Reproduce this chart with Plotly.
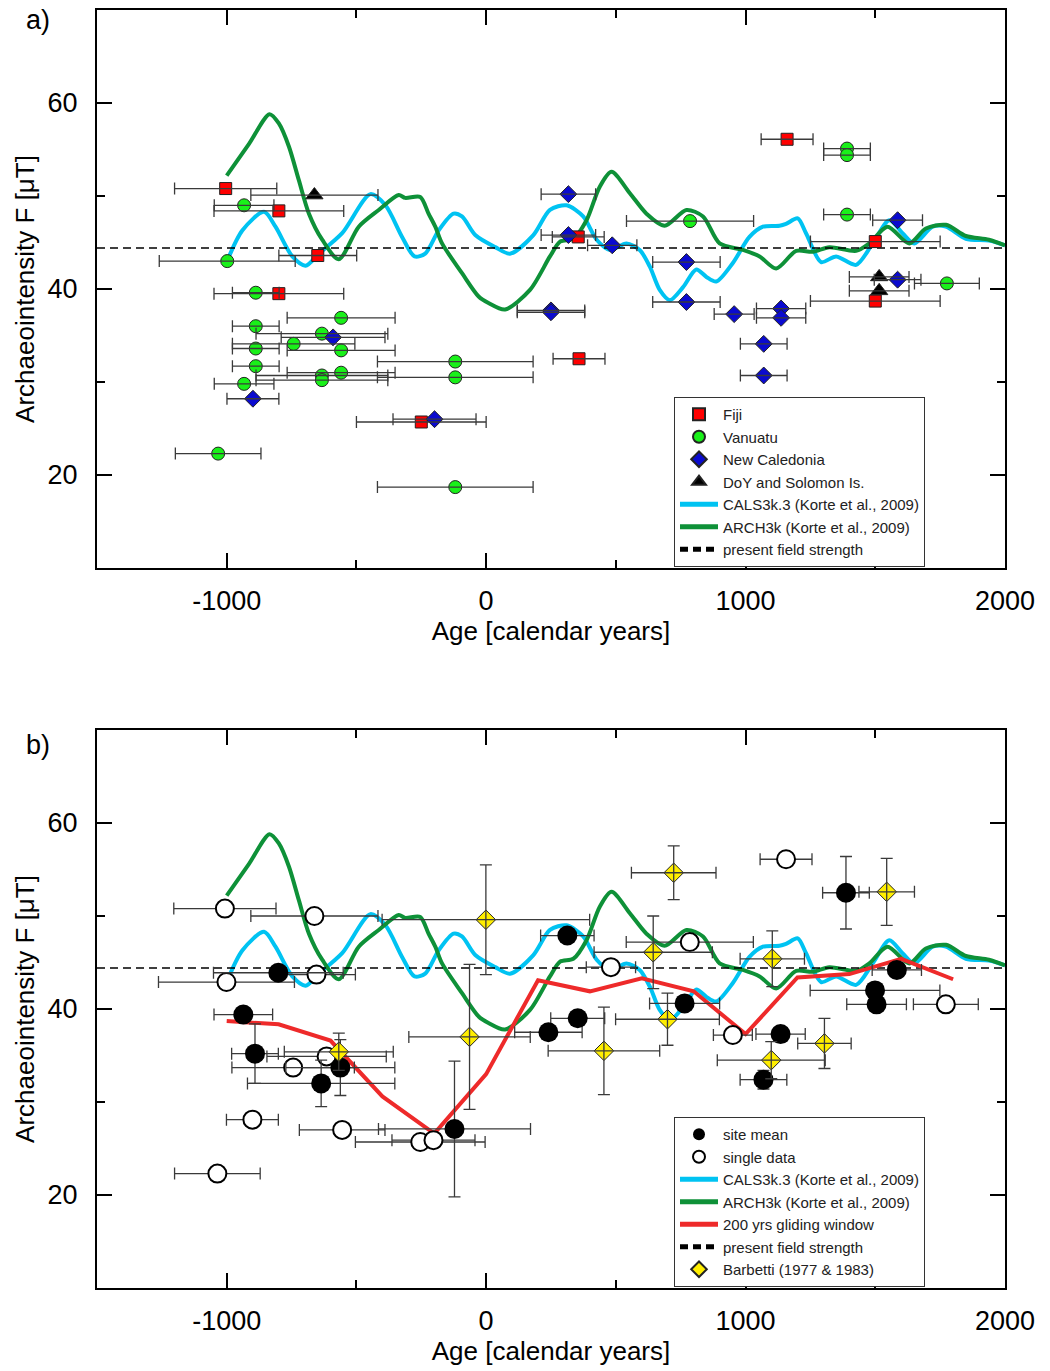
import plotly.graph_objects as go

# ---------------- geomagnetic field models (age [yr], F [µT]) ----------------
cals_age = [-1000, -940, -856, -812, -747, -696, -645, -555, -446, -388, -324, -276,
            -235, -183, -126, -93, -42, 35, 92, 182, 246, 310, 374, 426, 477, 541,
            592, 631, 669, 708, 759, 810, 849, 887, 951, 1015, 1067, 1131, 1156,
            1201, 1233, 1291, 1349, 1426, 1490, 1554, 1605, 1650, 1721, 1772, 1849,
            1938, 2000]
cals_f = [42.9, 46.3, 48.3, 46.7, 43.5, 42.5, 43.8, 46.0, 50.2, 49.0, 45.6, 43.5,
          43.8, 46.3, 48.1, 47.8, 45.8, 44.5, 43.8, 45.8, 48.5, 49.0, 47.8, 45.3,
          44.2, 44.9, 44.2, 42.4, 39.9, 38.8, 40.2, 42.1, 41.3, 40.8, 42.8, 45.6,
          46.7, 46.8, 47.0, 47.6, 46.0, 42.9, 43.5, 42.6, 44.9, 47.4, 46.0, 44.9,
          46.7, 46.7, 45.4, 45.2, 44.7]

arch_age = [-1000, -914, -835, -799, -760, -722, -683, -632, -568, -491, -414, -337,
            -312, -254, -222, -196, -170, -93, -29, 9, 73, 169, 246, 285, 336, 387,
            438, 483, 554, 618, 688, 772, 836, 900, 990, 1054, 1118, 1195, 1259,
            1323, 1426, 1477, 1547, 1631, 1695, 1772, 1849, 1938, 2000]
arch_f = [52.2, 55.6, 58.8, 57.8, 55.3, 51.7, 48.1, 45.3, 43.2, 46.7, 48.5, 50.1,
          49.8, 49.9, 48.1, 46.7, 44.9, 41.7, 39.2, 38.5, 37.8, 39.9, 43.5, 45.1,
          45.4, 47.4, 51.0, 52.6, 50.3, 48.1, 46.8, 48.5, 47.8, 44.9, 44.2, 43.5,
          42.2, 44.1, 44.0, 44.5, 44.1, 44.9, 46.7, 44.9, 46.5, 46.9, 45.7, 45.3,
          44.7]

present_field = 44.4
axis_age = [-1500, 2000]

# 200 yrs gliding window
glide_age = [-1000, -800, -600, -400, -200, 0, 200, 400, 600, 800, 1000, 1200,
             1400, 1600, 1800]
glide_f = [38.7, 38.35, 36.6, 30.6, 26.6, 33.0, 43.1, 41.9, 43.3, 41.9, 37.3,
           43.4, 43.75, 45.4, 43.2]

# axis tick labels
age_ticks = [-1000, 0, 1000, 2000]
age_ticktext = ["-1000", "0", "1000", "2000"]
f_ticks = [20, 40, 60]
f_ticktext = ["20", "40", "60"]

# ---------------- panel a: data by region (age, F, age uncertainty) ----------------
fiji_age = [-1004, -799, -649, -799, -250, 355, 1160, 358, 1500, 1500]
fiji_f = [50.8, 48.4, 43.6, 39.5, 25.7, 45.6, 56.1, 32.5, 45.1, 38.7]
fiji_dage = [197, 250, 150, 250, 250, 100, 100, 100, 250, 250]

vanuatu_age = [-933, -998, -888, -559, -888, -633, -742, -888, -559, -119, -888,
               -559, -633, -633, -119, -933, -1033, -119, 1391, 1391, 1391, 786, 1776]
vanuatu_f = [49.0, 43.0, 39.6, 36.9, 36.0, 35.2, 34.1, 33.6, 33.4, 32.2, 31.7,
             31.0, 30.7, 30.2, 30.5, 29.8, 22.3, 18.7, 55.1, 54.4, 48.0, 47.3, 40.6]
vanuatu_dage = [115, 262, 90, 208, 90, 254, 236, 90, 208, 300, 90,
                208, 254, 254, 300, 115, 165, 300, 90, 90, 90, 245, 125]

nc_age = [-590, -899, -199, 317, 317, 486, 772, 772, 250, 250, 956, 1137, 1137,
          1070, 1070, 1586, 1586]
nc_f = [34.8, 28.2, 26.0, 50.2, 45.8, 44.7, 42.9, 38.6, 37.7, 37.5, 37.3, 37.9,
        36.9, 34.1, 30.7, 47.4, 41.0]
nc_dage = [200, 100, 160, 105, 105, 95, 130, 130, 130, 130, 77, 95, 95, 90, 90,
           96, 90]

doy_age = [-662, 1515, 1515]
doy_f = [50.1, 41.3, 39.8]
doy_dage = [245, 115, 115]

# ---------------- panel b: site means, single data, Barbetti ----------------
mean_age = [-936, -891, -801, -562, -636, -122, 240, 313, 353, 765, 1069, 1135,
            1387, 1499, 1505, 1583]
mean_f = [39.4, 35.2, 43.9, 33.7, 32.0, 27.1, 37.5, 47.9, 39.0, 40.6, 32.4, 37.3,
          52.5, 42.0, 40.5, 44.2]
mean_dage = [113, 90, 250, 210, 284, 293, 130, 103, 104, 135, 90, 95, 90, 250,
             115, 95]
mean_df = [0, 3.2, 0, 3.0, 2.5, 7.3, 0, 0, 0, 0, 1.0, 0, 3.9, 0, 0, 0]

single_age = [-1007, -662, -1001, -654, -744, -615, -901, -555, -254, -203, -1036,
              1156, 785, 481, 951, 1772]
single_f = [50.8, 50.0, 42.9, 43.7, 33.7, 34.9, 28.1, 27.0, 25.7, 25.9, 22.3,
            56.1, 47.2, 44.5, 37.2, 40.5]
single_dage = [197, 245, 262, 150, 236, 230, 100, 165, 250, 160, 165, 100, 245,
               95, 75, 125]

barbetti_age = [-1, -64, -568, 723, 1544, 644, 1103, 699, 454, 1304, 1099]
barbetti_f = [49.6, 37.0, 35.4, 54.65, 52.6, 46.1, 45.4, 38.9, 35.5, 36.3, 34.5]
barbetti_dage = [400, 234, 210, 163, 107, 228, 124, 200, 215, 103, 208]
barbetti_df = [5.9, 7.8, 2.0, 2.9, 3.6, 3.9, 3.0, 2.8, 4.7, 2.7, 2.0]

# ---------------- styling ----------------
FONT = "Liberation Sans, Arial, sans-serif"
CYAN = "#00C3F2"
GREEN = "#0E9138"
RED_LINE = "#EE2A2A"
ERR_COLOR = "#3a3a3a"

fig = go.Figure()


def err(values, width=6):
    return dict(type="data", array=values, visible=True, color=ERR_COLOR,
                thickness=1.3, width=width)


def add_models(xa, ya, legend, rank0):
    fig.add_trace(go.Scatter(x=cals_age, y=cals_f, mode="lines", xaxis=xa, yaxis=ya,
                             line=dict(color=CYAN, width=4, shape="spline", smoothing=0.8),
                             name="CALS3k.3 (Korte et al., 2009)", legend=legend,
                             legendrank=rank0))
    fig.add_trace(go.Scatter(x=arch_age, y=arch_f, mode="lines", xaxis=xa, yaxis=ya,
                             line=dict(color=GREEN, width=4, shape="spline", smoothing=0.8),
                             name="ARCH3k (Korte et al., 2009)", legend=legend,
                             legendrank=rank0 + 1))


def add_present(xa, ya, legend, rank):
    fig.add_trace(go.Scatter(x=axis_age, y=[present_field, present_field], mode="lines",
                             xaxis=xa, yaxis=ya,
                             line=dict(color="black", width=1.5, dash="8px,5px"),
                             name="present field strength", legend=legend,
                             legendrank=rank))


# ---------- panel a ----------
add_models("x", "y", "legend", 5)
add_present("x", "y", "legend", 7)

groups_a = [
    ("Fiji", fiji_age, fiji_f, fiji_dage, "square", 12, "#FF0000", 1),
    ("Vanuatu", vanuatu_age, vanuatu_f, vanuatu_dage, "circle", 13, "#19F019", 2),
    ("New Caledonia", nc_age, nc_f, nc_dage, "diamond", 13, "#0A0ACF", 3),
    ("DoY and Solomon Is.", doy_age, doy_f, doy_dage, "triangle-up", 15, "#000000", 4),
]
for name, ax, af, adage, sym, size, color, rank in groups_a:
    fig.add_trace(go.Scatter(x=ax, y=af, mode="markers", xaxis="x", yaxis="y",
                             marker=dict(symbol=sym, size=size, color=color,
                                         line=dict(color="#222222", width=1)),
                             name=name, legend="legend", legendrank=rank))
# age uncertainties drawn over the symbols
for name, ax, af, adage, sym, size, color, rank in groups_a:
    fig.add_trace(go.Scatter(x=ax, y=af, mode="markers", xaxis="x", yaxis="y",
                             marker=dict(size=1, opacity=0), error_x=err(adage),
                             showlegend=False, hoverinfo="skip"))

# ---------- panel b ----------
add_models("x2", "y2", "legend2", 3)
add_present("x2", "y2", "legend2", 6)
fig.add_trace(go.Scatter(x=glide_age, y=glide_f, mode="lines", xaxis="x2", yaxis="y2",
                         line=dict(color=RED_LINE, width=4),
                         name="200 yrs gliding window", legend="legend2", legendrank=5))

fig.add_trace(go.Scatter(x=single_age, y=single_f, mode="markers", xaxis="x2", yaxis="y2",
                         marker=dict(symbol="circle", size=18, color="white",
                                     line=dict(color="black", width=2)),
                         error_x=err(single_dage),
                         name="single data", legend="legend2", legendrank=2))
fig.add_trace(go.Scatter(x=mean_age, y=mean_f, mode="markers", xaxis="x2", yaxis="y2",
                         marker=dict(symbol="circle", size=20, color="black",
                                     line=dict(color="black", width=0)),
                         error_x=err(mean_dage), error_y=err(mean_df),
                         name="site mean", legend="legend2", legendrank=1))
fig.add_trace(go.Scatter(x=barbetti_age, y=barbetti_f, mode="markers", xaxis="x2", yaxis="y2",
                         marker=dict(symbol="diamond", size=15, color="#FFEE00",
                                     line=dict(color="#222222", width=1)),
                         name="Barbetti (1977 & 1983)", legend="legend2", legendrank=7))
fig.add_trace(go.Scatter(x=barbetti_age, y=barbetti_f, mode="markers", xaxis="x2", yaxis="y2",
                         marker=dict(size=1, opacity=0),
                         error_x=err(barbetti_dage), error_y=err(barbetti_df),
                         showlegend=False, hoverinfo="skip"))

# ---------------- axes ----------------
W, H = 1050, 1371
x_dom = [97 / W, 1005 / W]
ya_dom = [1 - 568 / H, 1 - 10 / H]
yb_dom = [1 - 1288 / H, 1 - 730 / H]

common_x = dict(range=[-1500, 2000], tickmode="array", tickvals=age_ticks,
                ticktext=age_ticktext, ticks="inside", ticklen=15,
                tickwidth=1.5, tickcolor="black", showline=True, linewidth=2,
                linecolor="black", mirror="ticks", showgrid=False, zeroline=False,
                automargin=False,
                minor=dict(dtick=500, tick0=0, ticks="inside", ticklen=8, tickwidth=1.5,
                           tickcolor="black", showgrid=False),
                tickfont=dict(family=FONT, size=27, color="black"),
                ticklabelstandoff=8,
                title=dict(text="Age [calendar years]",
                           font=dict(family=FONT, size=26, color="black"), standoff=4))
common_y = dict(range=[10, 70], tickmode="array", tickvals=f_ticks,
                ticktext=f_ticktext, ticks="inside", ticklen=15,
                tickwidth=1.5, tickcolor="black", showline=True, linewidth=2,
                linecolor="black", mirror="ticks", showgrid=False, zeroline=False,
                automargin=False,
                minor=dict(dtick=10, tick0=0, ticks="inside", ticklen=8, tickwidth=1.5,
                           tickcolor="black", showgrid=False),
                tickfont=dict(family=FONT, size=27, color="black"),
                ticklabelstandoff=12,
                title=dict(text="Archaeointensity F [μT]",
                           font=dict(family=FONT, size=26, color="black"), standoff=5))

legend_style = dict(font=dict(family=FONT, size=15, color="#222222"),
                    bgcolor="white", bordercolor="#333333", borderwidth=1,
                    xanchor="left", yanchor="top", tracegroupgap=0,
                    itemsizing="constant", itemwidth=38)

fig.update_layout(
    width=W, height=H,
    margin=dict(l=0, r=0, t=0, b=0, autoexpand=False),
    paper_bgcolor="white", plot_bgcolor="white",
    showlegend=True,
    xaxis=dict(domain=x_dom, anchor="y", **common_x),
    yaxis=dict(domain=ya_dom, anchor="x", **common_y),
    xaxis2=dict(domain=x_dom, anchor="y2", **common_x),
    yaxis2=dict(domain=yb_dom, anchor="x2", **common_y),
    legend=dict(x=674 / W, y=1 - 397 / H, **legend_style),
    legend2=dict(x=674 / W, y=1 - 1117 / H, **legend_style),
    annotations=[
        dict(text="a)", x=38 / W, y=1 - 20 / H, xref="paper", yref="paper",
             xanchor="center", yanchor="middle",
             showarrow=False, font=dict(family=FONT, size=27, color="black")),
        dict(text="b)", x=38 / W, y=1 - 745 / H, xref="paper", yref="paper",
             xanchor="center", yanchor="middle",
             showarrow=False, font=dict(family=FONT, size=27, color="black")),
    ],
)

fig.write_html("out.html")
